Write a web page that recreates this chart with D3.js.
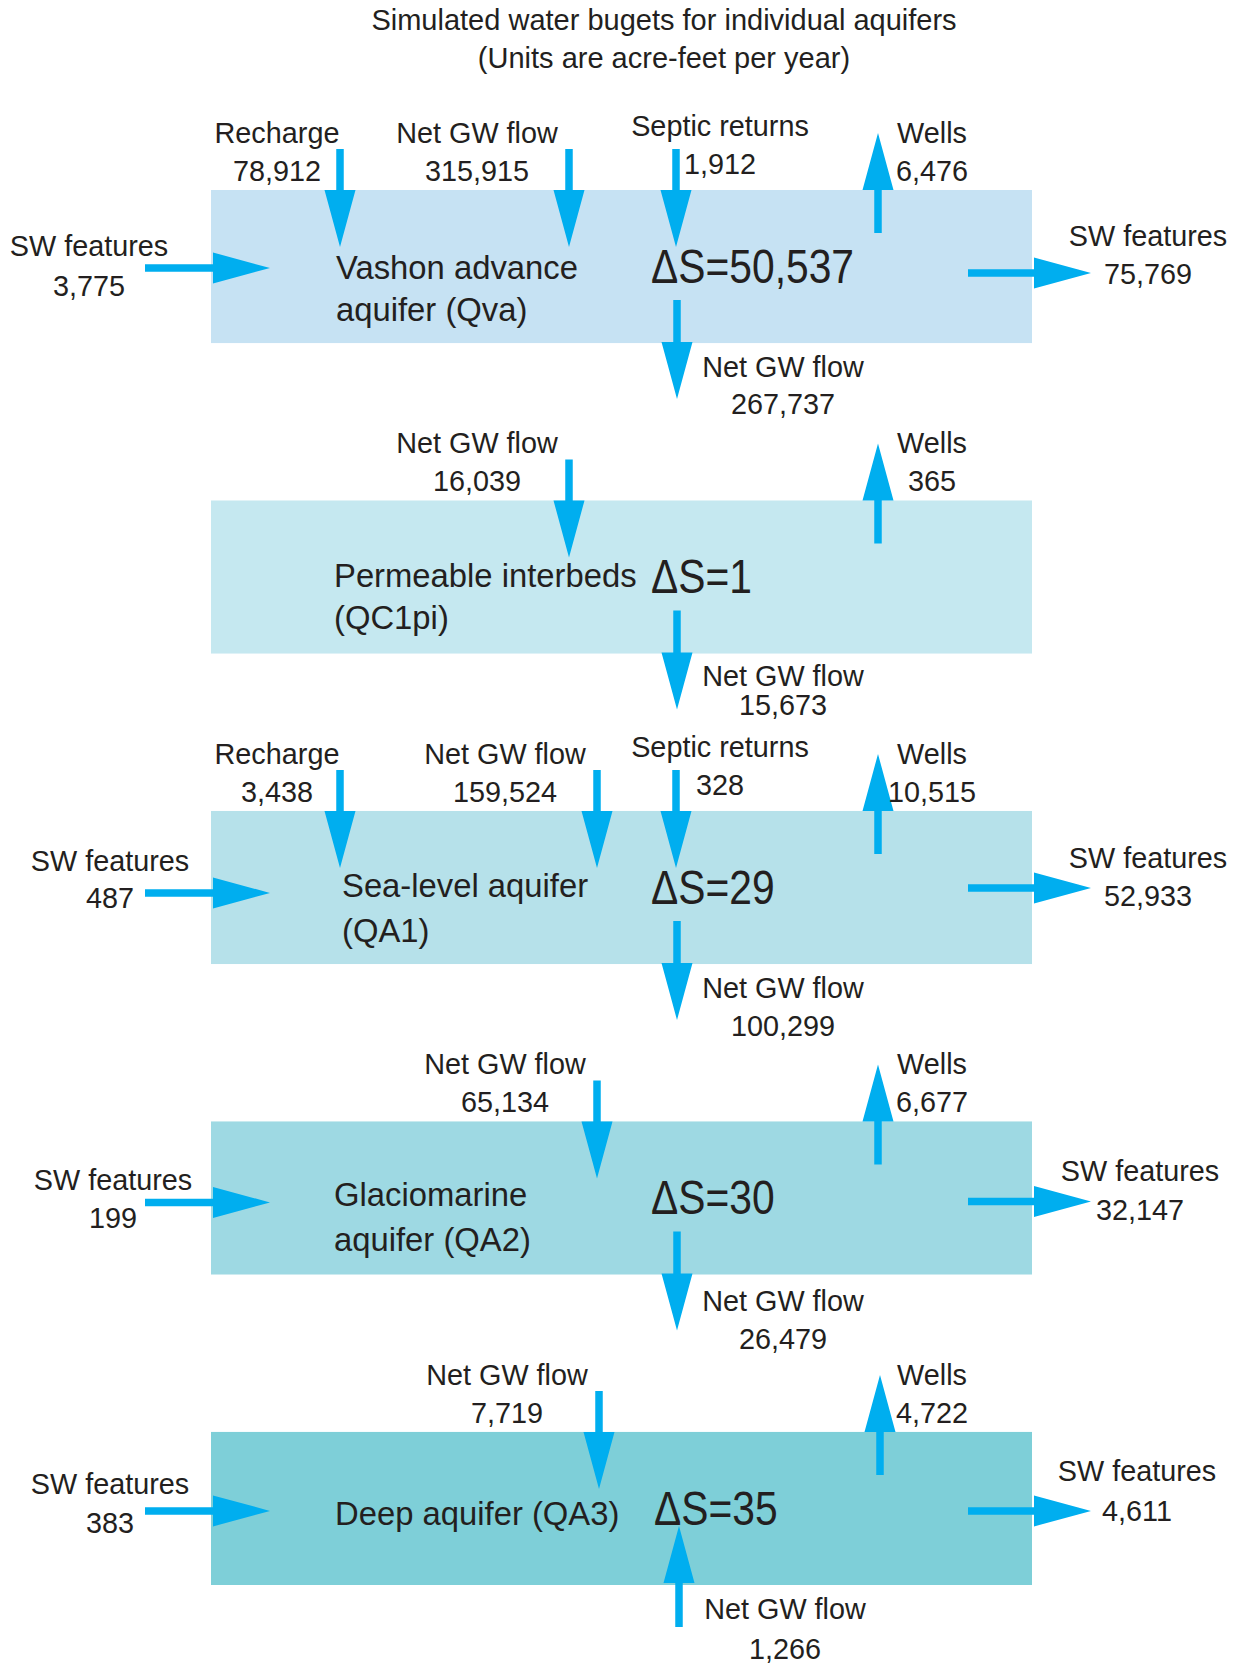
<!DOCTYPE html>
<html>
<head>
<meta charset="utf-8">
<script src="https://cdn.jsdelivr.net/npm/d3@7"></script>
<style>
  html, body { margin: 0; padding: 0; background: #ffffff; }
  svg { display: block; }
  text { font-family: "Liberation Sans", Arial, sans-serif; fill: #231f20; }
</style>
</head>
<body>
<svg id="chart" width="1235" height="1665"></svg>
<script>
// ---------------- DATA ----------------
const titleLines = ["Simulated water bugets for individual aquifers", "(Units are acre-feet per year)"];
const aquifers = ["Qva", "QC1pi", "QA1", "QA2", "QA3"];
const aquiferLabels = [
  ["Vashon advance", "aquifer (Qva)"],
  ["Permeable interbeds", "(QC1pi)"],
  ["Sea-level aquifer", "(QA1)"],
  ["Glaciomarine", "aquifer (QA2)"],
  ["Deep aquifer (QA3)"]
];
const storageChange = [50537, 1, 29, 30, 35];
const rechargeIn   = [78912, null, 3438, null, null];
const netGwTopIn   = [315915, 16039, 159524, 65134, 7719];
const septicIn     = [1912, null, 328, null, null];
const wellsOut     = [6476, 365, 10515, 6677, 4722];
const swFeaturesIn = [3775, null, 487, 199, 383];
const swFeaturesOut= [75769, null, 52933, 32147, 4611];
const netGwBottom  = [267737, 15673, 100299, 26479, 1266];
const netGwBottomDir = ["out", "out", "out", "out", "in"];

const flowNames = {
  recharge: "Recharge", netgw: "Net GW flow", septic: "Septic returns",
  wells: "Wells", sw: "SW features"
};

// ---------------- STYLE / LAYOUT ----------------
const boxColors = ["#c6e2f3", "#c5e8f0", "#b6e1ea", "#9ed9e3", "#7ecfd8"];
const arrowColor = "#00aeef";
const fmt = d3.format(",");

const svg = d3.select("#chart");

const y = d3.scaleBand().domain(aquifers).range([190, 1585]).paddingInner(0.507).paddingOuter(0);
const x = d3.scaleLinear().domain([0, 1]).range([211, 1032]); // box extent

// per-box layout tweaks (pixel offsets relative to box top)
const L = {
  netGwInX:   [569, 569, 597, 597, 599],
  wellsX:     [878, 878, 878, 878, 880],
  bottomX:    [677, 677, 677, 677, 679],
  leftSW:     [{cx: 89, b1: 66, b2: 106, ay: 78}, null, {cx: 110, b1: 60, b2: 97, ay: 82}, {cx: 113, b1: 69, b2: 107, ay: 81}, {cx: 110, b1: 62, b2: 101, ay: 79}],
  rightSW:    [{cx: 1148, b1: 56, b2: 94, ay: 83}, null, {cx: 1148, b1: 57, b2: 95, ay: 77}, {cx: 1140, b1: 60, b2: 99, ay: 80}, {cx: 1137, b1: 49, b2: 89, ay: 79}],
  bottomLbl:  [[187, 224], [186, 215], [187, 225], [190, 228], [187, 227]],
  nameX:      [336, 334, 342, 334, 335],
  nameB:      [[89, 131], [87, 129], [86, 131], [85, 130], [93]],
  dsX:        [651, 651, 651, 651, 654]
};

const HEAD = 57, HEADW = 31, SHAFT = 7.5;
function arrowPath(x1, y1, x2, y2, headLen = HEAD, headW = HEADW, shaftW = SHAFT) {
  const dx = x2 - x1, dy = y2 - y1, len = Math.hypot(dx, dy);
  const ux = dx / len, uy = dy / len, px = -uy, py = ux;
  const bx = x2 - ux * headLen, by = y2 - uy * headLen;
  const pts = [
    [x1 + px * shaftW / 2, y1 + py * shaftW / 2],
    [bx + px * shaftW / 2, by + py * shaftW / 2],
    [bx + px * headW / 2, by + py * headW / 2],
    [x2, y2],
    [bx - px * headW / 2, by - py * headW / 2],
    [bx - px * shaftW / 2, by - py * shaftW / 2],
    [x1 - px * shaftW / 2, y1 - py * shaftW / 2]
  ];
  return d3.line()(pts) + "Z";
}

const FS = 28.8;
function label(g, cx, baselines, lines, anchor = "middle", size = FS) {
  lines.forEach((t, i) => {
    g.append("text").attr("x", cx).attr("y", baselines[i])
      .attr("text-anchor", anchor).attr("font-size", size).text(t);
  });
}

// Title
const tg = svg.append("g");
label(tg, 664, [30, 68], titleLines, "middle", 29);

// Boxes
const boxes = svg.append("g");
boxes.selectAll("rect").data(aquifers).join("rect")
  .attr("x", x(0)).attr("y", d => y(d))
  .attr("width", x(1) - x(0)).attr("height", y.bandwidth())
  .attr("fill", (d, i) => boxColors[i]);

const arrows = svg.append("g").attr("fill", arrowColor);
const texts = svg.append("g");

aquifers.forEach((a, i) => {
  const top = y(a), bot = top + y.bandwidth();

  if (rechargeIn[i] != null) {
    const ax = 340;
    arrows.append("path").attr("d", arrowPath(ax, top - 41, ax, top + 57));
    label(texts, ax - 63, [top - 47, top - 9], [flowNames.recharge, fmt(rechargeIn[i])]);
  }
  if (netGwTopIn[i] != null) {
    const ax = L.netGwInX[i];
    arrows.append("path").attr("d", arrowPath(ax, top - 41, ax, top + 57));
    label(texts, ax - 92, [top - 47, top - 9], [flowNames.netgw, fmt(netGwTopIn[i])]);
  }
  if (septicIn[i] != null) {
    const ax = 676;
    arrows.append("path").attr("d", arrowPath(ax, top - 41, ax, top + 57));
    label(texts, ax + 44, [top - 54, top - 16], [flowNames.septic, fmt(septicIn[i])]);
  }
  if (wellsOut[i] != null) {
    const ax = L.wellsX[i];
    arrows.append("path").attr("d", arrowPath(ax, top + 43, ax, top - 57));
    label(texts, 932, [top - 47, top - 9], [flowNames.wells, fmt(wellsOut[i])]);
  }
  if (swFeaturesIn[i] != null) {
    const l = L.leftSW[i];
    arrows.append("path").attr("d", arrowPath(145, top + l.ay, 270, top + l.ay));
    label(texts, l.cx, [top + l.b1, top + l.b2], [flowNames.sw, fmt(swFeaturesIn[i])]);
  }
  if (swFeaturesOut[i] != null) {
    const r = L.rightSW[i];
    arrows.append("path").attr("d", arrowPath(968, top + r.ay, 1091, top + r.ay));
    label(texts, r.cx, [top + r.b1, top + r.b2], [flowNames.sw, fmt(swFeaturesOut[i])]);
  }
  if (netGwBottom[i] != null) {
    const ax = L.bottomX[i];
    if (netGwBottomDir[i] === "out") {
      arrows.append("path").attr("d", arrowPath(ax, top + 110, ax, bot + 56));
    } else {
      arrows.append("path").attr("d", arrowPath(ax, bot + 42, ax, top + 94));
    }
    const b = L.bottomLbl[i];
    label(texts, ax + 106, [top + b[0], top + b[1]], [flowNames.netgw, fmt(netGwBottom[i])]);
  }
  label(texts, L.nameX[i], L.nameB[i].map(v => top + v), aquiferLabels[i], "start", 32.8);
  texts.append("text")
    .attr("transform", `translate(${L.dsX[i]},${top + 93}) scale(0.85,1)`)
    .attr("font-size", 48).attr("text-anchor", "start")
    .text("ΔS=" + fmt(storageChange[i]));
});
</script>
</body>
</html>
